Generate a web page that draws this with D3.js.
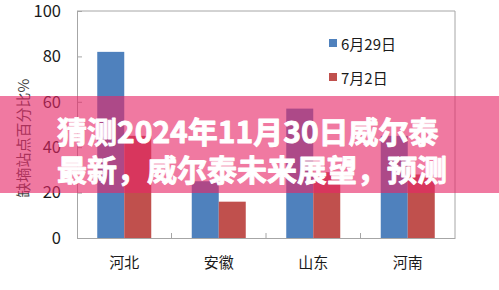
<!DOCTYPE html>
<html>
<head>
<meta charset="utf-8">
<script src="https://cdn.jsdelivr.net/npm/d3@7"></script>
<style>
  body { margin: 0; background: #fff; }
  text { font-family: "Noto Sans CJK SC", "Noto Sans", sans-serif; }
</style>
</head>
<body>
<div id="chart"></div>
<script>
// data
var categories = ["河北", "安徽", "山东", "河南"];
var seriesNames = ["6月29日", "7月2日"];
var jun29 = [82, 25, 57, 45];
var jul2 = [45, 16, 29, 28];
var yTicks = [0, 20, 40, 60, 80, 100];
var yLabel = "缺墒站点百分比%";
var titleLines = ["猜测2024年11月30日威尔泰", "最新，威尔泰未来展望，预测"];

var colors = ["#4f81bd", "#c0504d"];

var margin = {top: 11, right: 44, bottom: 52, left: 77}
  , width = 499 - margin.left - margin.right
  , height = 290 - margin.top - margin.bottom;

var svg = d3.select("#chart").append("svg")
    .attr("width", 499)
    .attr("height", 290);

var g = svg.append("g")
    .attr("transform", "translate(" + margin.left + "," + margin.top + ")");

var x = d3.scaleBand()
    .domain(categories)
    .range([0, width]);

var xSub = d3.scaleBand()
    .domain(seriesNames)
    .range([0, x.bandwidth()])
    .paddingInner(0)
    .paddingOuter(0.75);

var y = d3.scaleLinear()
    .domain([0, 100])
    .range([height, 0]);

// plot frame (top + right)
g.append("path")
    .attr("d", "M0,0H" + width + "V" + height)
    .attr("fill", "none")
    .attr("stroke", "#a6a6a6");

// bars
var rows = categories.map(function(c, i) {
  return {cat: c, values: [jun29[i], jul2[i]]};
});

var groups = g.selectAll(".grp")
    .data(rows)
  .enter().append("g")
    .attr("transform", function(d) { return "translate(" + x(d.cat) + ",0)"; });

groups.selectAll("rect")
    .data(function(d) { return d.values.map(function(v, k) { return {name: seriesNames[k], v: v, k: k}; }); })
  .enter().append("rect")
    .attr("x", function(d) { return xSub(d.name); })
    .attr("width", xSub.bandwidth())
    .attr("y", function(d) { return y(d.v); })
    .attr("height", function(d) { return height - y(d.v); })
    .attr("fill", function(d) { return colors[d.k]; });

// y axis
var yAxis = g.append("g")
    .call(d3.axisLeft(y).tickValues(yTicks).tickSize(-5).tickPadding(16));
yAxis.select(".domain").attr("stroke", "#a6a6a6");
yAxis.selectAll(".tick line").attr("stroke", "#a6a6a6");
yAxis.selectAll("text")
    .attr("font-size", 16.5)
    .attr("fill", "#1a1a1a");

// x axis: ticks at category boundaries, pointing inward
var xAxis = g.append("g")
    .attr("transform", "translate(0," + height + ")")
    .call(d3.axisBottom(x).tickSize(0).tickPadding(19));
xAxis.select(".domain").attr("stroke", "#a6a6a6");
xAxis.selectAll("text")
    .attr("font-size", 15)
    .attr("fill", "#1a1a1a");

g.selectAll(".sep")
    .data(categories.slice(1))
  .enter().append("line")
    .attr("x1", function(d) { return x(d); })
    .attr("x2", function(d) { return x(d); })
    .attr("y1", height)
    .attr("y2", height - 5)
    .attr("stroke", "#a6a6a6");

// y label
svg.append("text")
    .attr("transform", "translate(22," + 138 + ") rotate(-90)")
    .attr("text-anchor", "middle")
    .attr("dominant-baseline", "central")
    .attr("font-size", 15)
    .attr("fill", "#444")
    .text(yLabel);

// legend
var legend = svg.append("g")
    .attr("transform", "translate(329,43)");

var li = legend.selectAll(".li")
    .data(seriesNames)
  .enter().append("g")
    .attr("transform", function(d, i) { return "translate(0," + (i * 34) + ")"; });

li.append("rect")
    .attr("x", 0)
    .attr("y", -4)
    .attr("width", 8)
    .attr("height", 8)
    .attr("fill", function(d, i) { return colors[i]; });

li.append("text")
    .attr("x", 12)
    .attr("dominant-baseline", "central")
    .attr("font-size", 15)
    .attr("fill", "#1a1a1a")
    .text(function(d) { return d; });

// pink banner over the chart
svg.append("rect")
    .attr("x", 0)
    .attr("y", 96)
    .attr("width", 499)
    .attr("height", 97)
    .attr("fill", "rgb(231,38,104)")
    .attr("fill-opacity", 0.62);

svg.selectAll(".title")
    .data(titleLines)
  .enter().append("text")
    .attr("x", 57)
    .attr("y", function(d, i) { return 130 + i * 38; })
    .attr("dominant-baseline", "central")
    .attr("font-size", 30)
    .attr("font-weight", "bold")
    .attr("fill", "#fff")
    .attr("stroke", "#fff")
    .attr("stroke-width", 0.9)
    .attr("stroke-linejoin", "round")
    .text(function(d) { return d; });
</script>
</body>
</html>
